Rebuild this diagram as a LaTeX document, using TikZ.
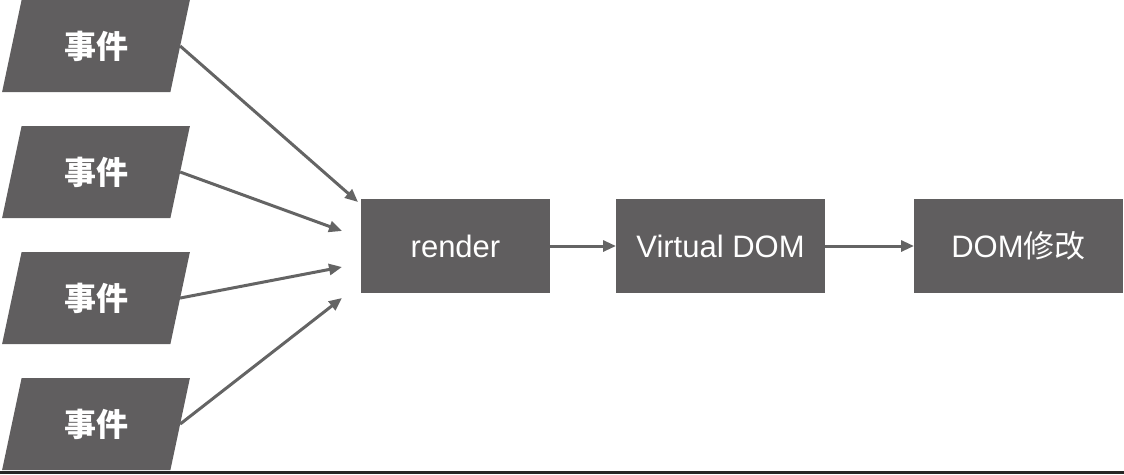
\documentclass[tikz,border=0pt]{standalone}
\usepackage{fontspec}
\setmainfont{Liberation Sans}
\newfontfamily\cjk{Noto Sans CJK SC}
\usetikzlibrary{shapes.geometric,positioning,calc,arrows.meta}
\definecolor{boxgray}{RGB}{96,94,95}
\definecolor{linegray}{RGB}{100,100,100}

\tikzset{
  event/.style={trapezium, trapezium left angle=76, trapezium right angle=104,
    trapezium stretches=true, fill=boxgray, text=white,
    minimum width=188pt, minimum height=92pt,
    font=\fontsize{32}{36}\selectfont\cjk\bfseries},
  stage/.style={rectangle, fill=boxgray, text=white, minimum height=94pt,
    font=\fontsize{31}{36}\selectfont},
  flow/.style={draw=linegray, line width=3pt, -{Triangle[length=13pt,width=11pt]}}
}

\begin{document}
\begin{tikzpicture}[x=1pt, y=-1pt, node distance=34pt, outer sep=0pt]
    \useasboundingbox (0,0) rectangle (1124,474);

    \node [stage, minimum width=189pt] (render) at (455.5,246) {render};
    \node [stage, minimum width=209pt, right=66pt of render] (vdom) {Virtual DOM};
    \node [stage, minimum width=209pt, right=89pt of vdom] (dom) {DOM{\cjk 修改}};

    \node [event] (ev1) at (96,46) {事件};
    \node [event, below=of ev1] (ev2) {事件};
    \node [event, below=of ev2] (ev3) {事件};
    \node [event, below=of ev3] (ev4) {事件};

    % arrow ends in front of render
    \coordinate (in1) at ($(render.north west)+(-3,3)$);
    \coordinate (in2) at ($(render.west)+(-19,-15)$);
    \coordinate (in3) at ($(render.west)+(-19,21)$);
    \coordinate (in4) at ($(render.west)+(-19,52)$);

    \draw [flow] (ev1.east) -- (in1);
    \draw [flow] (ev2.east) -- (in2);
    \draw [flow] (ev3.east) -- (in3);
    \draw [flow] (ev4.east) -- (in4);

    \draw [flow] (render) -- (vdom);
    \draw [flow] (vdom) -- (dom);

    \fill [black!85] (0,471) rectangle (1124,474);
\end{tikzpicture}
\end{document}
